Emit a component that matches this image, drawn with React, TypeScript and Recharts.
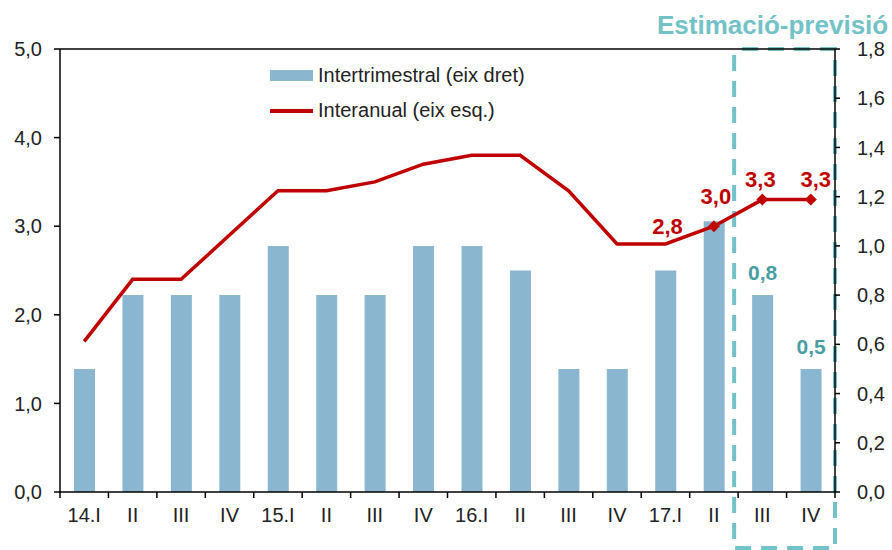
import { ComposedChart, Bar, Line, XAxis, YAxis, LabelList, ReferenceLine, ReferenceArea } from 'recharts';

const categories = ['14.I', '14.II', '14.III', '14.IV', '15.I', '15.II', '15.III', '15.IV', '16.I', '16.II', '16.III', '16.IV', '17.I', '17.II', '17.III', '17.IV'];
const tickLabels = ['14.I', 'II', 'III', 'IV', '15.I', 'II', 'III', 'IV', '16.I', 'II', 'III', 'IV', '17.I', 'II', 'III', 'IV'];
const intertrimestral = [0.5, 0.8, 0.8, 0.8, 1.0, 0.8, 0.8, 1.0, 1.0, 0.9, 0.5, 0.5, 0.9, 1.1, 0.8, 0.5];
const interanual = [1.7, 2.4, 2.4, 2.9, 3.4, 3.4, 3.5, 3.7, 3.8, 3.8, 3.4, 2.8, 2.8, 3.0, 3.3, 3.3];
const leftTicks = [0, 1, 2, 3, 4, 5];
const rightTicks = [0, 0.2, 0.4, 0.6, 0.8, 1.0, 1.2, 1.4, 1.6, 1.8];

const data = categories.map((c, i) => ({ name: c, inter: intertrimestral[i], anual: interanual[i] }));

const FONT = '"Liberation Sans", Arial, sans-serif';
const BAR = '#8ab7cf';
const RED = '#c00000';
const TEAL = '#72c2c7';
const TEAL_DARK = '#4a9ea3';

const fmt = (v: number) => v.toFixed(1).replace('.', ',');

function XTick(props: any) {
    const { x, y, payload, index } = props;
    const half = payload && payload.offset ? payload.offset : 24.2;
    return (
        <g>
            <line x1={x - half} x2={x - half} y1={y} y2={y + 6} stroke="#000" strokeWidth={1.5} />
            {index === categories.length - 1 && (
                <line x1={x + half} x2={x + half} y1={y} y2={y + 6} stroke="#000" strokeWidth={1.5} />
            )}
            <text x={x} y={y + 30} textAnchor="middle" fontSize={20} fill="#222" fontFamily={FONT}>
                {tickLabels[index]}
            </text>
        </g>
    );
}

function Diamond(props: any) {
    const { cx, cy, index } = props;
    if (index < 13) return <g key={`d-${index}`} />;
    return <path key={`d-${index}`} d={`M${cx},${cy - 6} L${cx + 6},${cy} L${cx},${cy + 6} L${cx - 6},${cy} Z`} fill={RED} />;
}

const lineLabelOffset: Record<number, [number, number]> = { 12: [2, -10], 13: [2, -22], 14: [-2, -13], 15: [5, -13] };

function LineLabel(props: any) {
    const { x, y, value, index } = props;
    const off = lineLabelOffset[index];
    if (!off) return null;
    return (
        <text x={x + off[0]} y={y + off[1]} textAnchor="middle" fontSize={22} fontWeight="bold" fill={RED} fontFamily={FONT}>
            {fmt(value)}
        </text>
    );
}

function BarLabel(props: any) {
    const { x, y, width, value, index } = props;
    if (index < 14) return null;
    return (
        <text x={x + width / 2} y={y - 15} textAnchor="middle" fontSize={21} fontWeight="bold" fill={TEAL_DARK} fontFamily={FONT}>
            {fmt(value)}
        </text>
    );
}

function ForecastBox(props: any) {
    const { x, y, width } = props;
    const bottom = 548;
    return (
        <g>
            <path
                d={`M${x - 4},${y + 6} L${x - 4},${bottom} L${x + width},${bottom} L${x + width},${y} L${x + 4},${y}`}
                fill="none"
                stroke={TEAL}
                strokeWidth={4}
                strokeDasharray="16 10"
            />
            <text x={657} y={34} fontSize={26} fontWeight="bold" fill={TEAL} fontFamily={FONT}>
                Estimació-previsió
            </text>
        </g>
    );
}

function LegendBox() {
    const row = { display: 'flex', alignItems: 'center', height: 35, fontSize: 20, color: '#222', fontFamily: FONT, whiteSpace: 'nowrap' } as const;
    return (
        <div style={{ position: 'absolute', left: 270, top: 58 }}>
            <div style={row}>
                <span style={{ display: 'inline-block', width: 43, height: 11, background: BAR, marginRight: 5 }} />
                Intertrimestral (eix dret)
            </div>
            <div style={row}>
                <span style={{ display: 'inline-block', width: 43, height: 4, background: RED, marginRight: 5 }} />
                Interanual (eix esq.)
            </div>
        </div>
    );
}

export default function App() {
    return (
        <div style={{ position: 'absolute', left: 0, top: 0, width: 892, height: 550, background: '#fff' }}>
            <ComposedChart width={892} height={550} data={data} margin={{ top: 49, right: 0, left: 0, bottom: 28 }}>
                <XAxis
                    dataKey="name"
                    xAxisId="x"
                    height={30}
                    interval={0}
                    tickLine={false}
                    tickSize={0}
                    tickMargin={0}
                    axisLine={{ stroke: '#000', strokeWidth: 1.5 }}
                    tick={<XTick />}
                />
                <YAxis
                    yAxisId="left"
                    domain={[0, 5]}
                    ticks={leftTicks}
                    width={60}
                    tickFormatter={fmt}
                    tickSize={6}
                    tickMargin={12}
                    axisLine={{ stroke: '#000', strokeWidth: 1.5 }}
                    tickLine={{ stroke: '#000', strokeWidth: 1.5 }}
                    tick={{ fontSize: 20, fill: '#222', fontFamily: FONT }}
                />
                <YAxis
                    yAxisId="right"
                    orientation="right"
                    domain={[0, 1.8]}
                    ticks={rightTicks}
                    width={57}
                    tickFormatter={fmt}
                    tickSize={5}
                    tickMargin={17}
                    axisLine={{ stroke: '#000', strokeWidth: 1.5 }}
                    tickLine={{ stroke: '#000', strokeWidth: 1.5 }}
                    tick={{ fontSize: 20, fill: '#222', fontFamily: FONT, textAnchor: 'start' }}
                />
                <ReferenceLine y={5} yAxisId="left" xAxisId="x" stroke="#000" strokeWidth={1.5} />
                <Bar dataKey="inter" name="Intertrimestral (eix dret)" yAxisId="right" xAxisId="x" fill={BAR} barSize={21} isAnimationActive={false}>
                    <LabelList dataKey="inter" content={<BarLabel />} />
                </Bar>
                <Line
                    dataKey="anual"
                    name="Interanual (eix esq.)"
                    yAxisId="left"
                    xAxisId="x"
                    stroke={RED}
                    strokeWidth={3.5}
                    dot={Diamond}
                    activeDot={false}
                    isAnimationActive={false}
                >
                    <LabelList dataKey="anual" content={<LineLabel />} />
                </Line>
                <ReferenceArea
                    x1="17.III"
                    x2="17.IV"
                    y1={0}
                    y2={5}
                    xAxisId="x"
                    yAxisId="left"
                    ifOverflow="visible"
                    shape={<ForecastBox />}
                />
            </ComposedChart>
            <LegendBox />
        </div>
    );
}
